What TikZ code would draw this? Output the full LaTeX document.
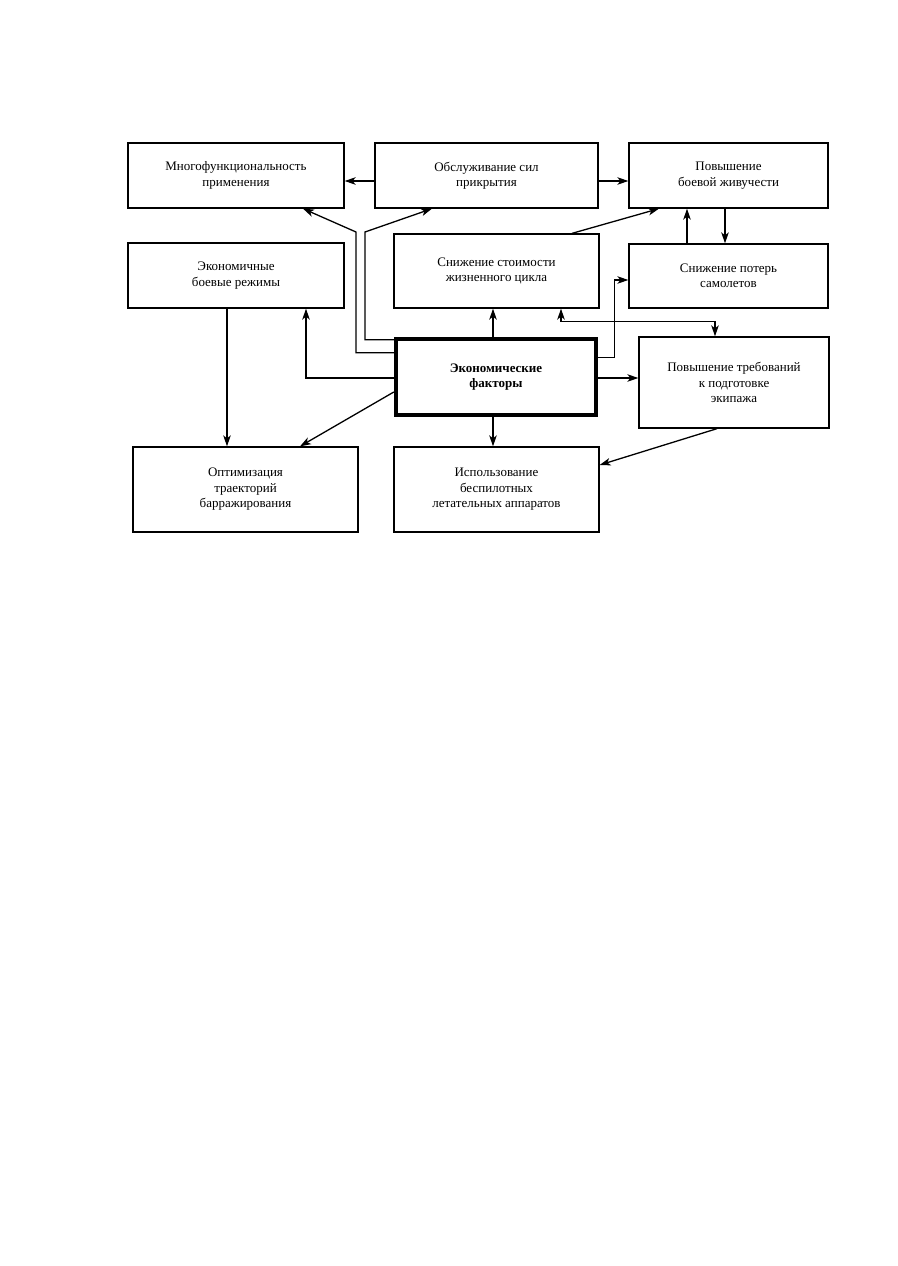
\documentclass[tikz,border=0pt]{standalone}
\usepackage{fontspec}
\setmainfont{Liberation Serif}
\usetikzlibrary{arrows.meta,calc}
\begin{document}
\begin{tikzpicture}[x=1pt,y=-1pt,
  box/.style={draw,line width=1.3pt,inner sep=2pt,align=center,font=\fontsize{13}{15.5}\selectfont},
  mainbox/.style={box,line width=4.4pt,font=\fontsize{13}{15.5}\selectfont\bfseries},
  conn/.style={line width=1.3pt},
  arr/.style={conn,-{Stealth[length=11pt,width=7.5pt,inset=3pt]}},
  darr/.style={conn,{Stealth[length=11pt,width=7.5pt,inset=3pt]}-{Stealth[length=11pt,width=7.5pt,inset=3pt]}}]
\useasboundingbox[fill=white] (0,0) rectangle (897,1266);
% nodes
\node[box,minimum width=216pt,minimum height=65pt] (mnogo) at (236,175.5) {Многофункциональность\\применения};
\node[box,minimum width=216pt,minimum height=65pt] (ekonrezh) at (236,275.5) {Экономичные\\боевые режимы};
\node[box,minimum width=223pt,minimum height=65pt] (obsl) at (486.5,175.5) {Обслуживание сил\\прикрытия};
\node[box,minimum width=205pt,minimum height=74pt] (snizst) at (496.5,271) {Снижение стоимости\\жизненного цикла};
\node[box,minimum width=199pt,minimum height=65pt] (povzh) at (728.5,175.5) {Повышение\\боевой живучести};
\node[box,minimum width=199pt,minimum height=64pt] (snizpot) at (728.5,276) {Снижение потерь\\самолетов};
\node[mainbox,minimum width=200pt,minimum height=76pt] (ekf) at (496,377) {Экономические\\факторы};
\node[box,minimum width=190pt,minimum height=91pt] (povtreb) at (734,382.5) {Повышение требований\\к подготовке\\экипажа};
\node[box,minimum width=225pt,minimum height=85pt] (optim) at (245.5,489.5) {Оптимизация\\траекторий\\барражирования};
\node[box,minimum width=205pt,minimum height=85pt] (ispol) at (496.5,489.5) {Использование\\беспилотных\\летательных аппаратов};
% connectors
\draw[arr] ([yshift=-5.5pt]obsl.west) -- ([yshift=-5.5pt]mnogo.east);
\draw[arr] ([yshift=-5.5pt]obsl.east) -- ([yshift=-5.5pt]povzh.west);
\coordinate (c1) at (356,232);
\coordinate (c2) at (365,232);
\draw[arr] ([yshift=-16pt]ekf.north west) -| (c1) -- ([xshift=67pt]mnogo.south);
\draw[arr] ([yshift=-3pt]ekf.north west) -| (c2) -- ([xshift=-54.5pt]obsl.south);
\draw[arr] ([yshift=-1pt]ekf.west) -| ([xshift=70pt]ekonrezh.south);
\draw[arr] ([yshift=-15pt]ekf.west) -- ([xshift=54.5pt]optim.north);
\draw[arr] ([xshift=-9pt]ekonrezh.south) -- ([xshift=-9pt]ekonrezh.south |- optim.north);
\draw[arr] ([xshift=-3pt]ekf.north) -- ([xshift=-3pt]ekf.north |- snizst.south);
\draw[arr] ([xshift=-3pt]ekf.south) -- ([xshift=-3pt]ekf.south |- ispol.north);
\draw[darr] ([xshift=64.5pt]snizst.south) |- ([xshift=-19pt,yshift=15pt]povtreb.north) -- ([xshift=-19pt]povtreb.north);
\draw[arr] ([yshift=-21pt]ekf.north east) -- ++(16,0) |- ([yshift=-4pt]snizpot.west);
\draw[arr] ([yshift=-1pt]ekf.east) -- ([yshift=-1pt]ekf.east -| povtreb.west);
\draw[arr] ([xshift=-17pt]povtreb.south) -- ([yshift=24.5pt]ispol.east);
\draw[arr] ([xshift=75.5pt]snizst.north) -- ([xshift=-69.5pt]povzh.south);
\draw[arr] ([xshift=-41.5pt]snizpot.north) -- ([xshift=-41.5pt]snizpot.north |- povzh.south);
\draw[arr] ([xshift=-3.5pt]povzh.south) -- ([xshift=-3.5pt]povzh.south |- snizpot.north);
\end{tikzpicture}
\end{document}
